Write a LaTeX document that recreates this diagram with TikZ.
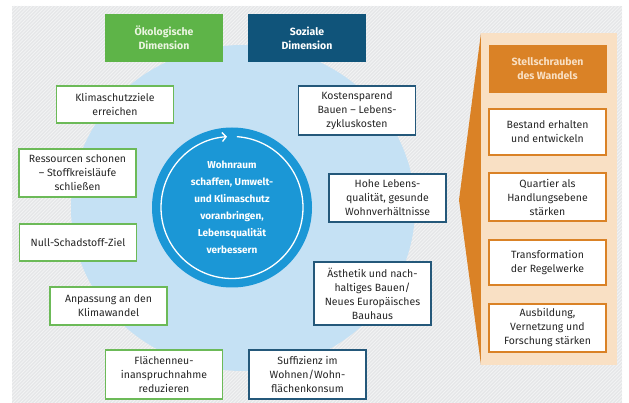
\documentclass[tikz,border=0pt]{standalone}
\usepackage{fontspec}
\setmainfont{Fira Sans}
\usetikzlibrary{arrows.meta,calc}

\definecolor{hatchbg}{RGB}{229,230,232}
\definecolor{hatchln}{RGB}{242,243,244}
\definecolor{paleblue}{RGB}{197,225,244}
\definecolor{circblue}{RGB}{27,151,214}
\definecolor{ecogreen}{RGB}{94,180,72}
\definecolor{ecoline}{RGB}{108,186,88}
\definecolor{socblue}{RGB}{16,84,122}
\definecolor{socline}{RGB}{36,88,122}
\definecolor{darkorange}{RGB}{218,130,38}
\definecolor{paleorange}{RGB}{249,224,196}
\definecolor{textgray}{RGB}{38,38,38}
\definecolor{headtext}{RGB}{235,245,225}

\tikzset{
  basebox/.style={draw, line width=1.8pt, fill=white, text=textgray, align=center,
    minimum width=117pt, inner sep=0pt,
    font=\fontsize{10.5}{14}\selectfont},
  ecobox/.style={basebox, draw=ecoline},
  socbox/.style={basebox, draw=socline},
  levbox/.style={basebox, draw=darkorange},
  headbox/.style={align=center, minimum width=118pt, minimum height=48pt, inner sep=0pt,
    font=\fontsize{10.5}{14}\selectfont\bfseries},
}

\begin{document}
\begin{tikzpicture}[x=1pt, y=-1pt]
\useasboundingbox (0,0) rectangle (629,403);
\fill[white] (0,0) rectangle (629,403);

% hatched backdrop
\begin{scope}
  \clip (12,6) rectangle (622,403);
  \fill[hatchbg] (12,6) rectangle (622,403);
  \foreach \i in {-400,-396.5,...,630} \draw[hatchln, line width=0.9pt] (\i,403) -- (\i+397,6);
\end{scope}

% pale disc behind the goals
\fill[paleblue] (243,208) ellipse[x radius=172, y radius=163];

% central circle with its cycle arrow
\node[circle, fill=circblue, minimum size=160pt, inner sep=0pt] (core) at (232,207.5) {};
\draw[white, line width=1.3pt, -{Straight Barb[length=4pt, width=9pt, line width=1.3pt]}]
  ($(core.center)+(-86:71)$) arc[start angle=-86, end angle=266, radius=71];
\node[text=white, align=center, font=\fontsize{10}{17}\selectfont\bfseries] (coretext) at (232,207)
  {Wohnraum\\schaffen, Umwelt-\\und Klimaschutz\\voranbringen,\\Lebensqualität\\verbessern};

% levers panel
\fill[darkorange] (481,33) -- (459,200) -- (481,365) -- cycle;
\fill[paleorange] (481,33) rectangle (617,365);

% dimension headers
\node[headbox, fill=ecogreen, text=headtext] (oek) at (164,38) {Ökologische\\Dimension};
\node[headbox, fill=socblue, text=white] (soz) at (307,38) {Soziale\\Dimension};
\node[headbox, fill=darkorange, text=paleorange] (stell) at (547.5,69) {Stellschrauben\\des Wandels};

% ecological goals
\node[ecobox, minimum height=37pt] (klima) at (115,104.5) {Klimaschutzziele\\erreichen};
\node[ecobox, minimum height=48pt] (ress) at (77.5,173) {Ressourcen schonen\\– Stoffkreisläufe\\schließen};
\node[ecobox, minimum height=37pt] (null) at (78,242.5) {Null-Schadstoff-Ziel};
\node[ecobox, minimum height=38pt] (anpass) at (108.5,306) {Anpassung an den\\Klimawandel};
\node[ecobox, minimum height=49pt] (flaeche) at (164,374.5) {Flächenneu-\\inanspruchnahme\\reduzieren};

% social goals
\node[socbox, minimum height=49pt] (kosten) at (357,110.5) {Kostensparend\\Bauen – Lebens-\\zykluskosten};
\node[socbox, minimum height=48pt] (hohe) at (387.5,198) {Hohe Lebens-\\qualität, gesunde\\Wohnverhältnisse};
\node[socbox, minimum height=63pt] (aesth) at (372.5,293.5) {Ästhetik und nach-\\haltiges Bauen/\\Neues Europäisches\\Bauhaus};
\node[socbox, minimum height=49pt] (suff) at (307.5,374.5) {Suffizienz im\\Wohnen/Wohn-\\flächenkonsum};

% levers
\node[levbox, minimum height=46pt] (bestand) at (547.5,132) {Bestand erhalten\\und entwickeln};
\node[levbox, minimum height=48pt] (quartier) at (547.5,197) {Quartier als\\Handlungsebene\\stärken};
\node[levbox, minimum height=45pt] (trans) at (547.5,262.5) {Transformation\\der Regelwerke};
\node[levbox, minimum height=48pt] (ausb) at (547.5,328) {Ausbildung,\\Vernetzung und\\Forschung stärken};
\end{tikzpicture}
\end{document}
